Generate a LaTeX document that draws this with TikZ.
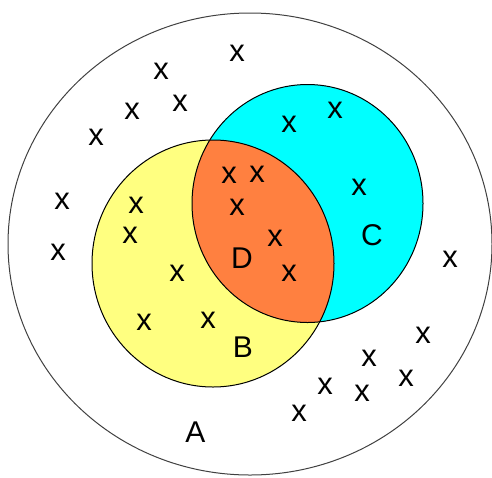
\documentclass[tikz,border=0pt]{standalone}
\usepackage{fontspec}
\setmainfont{Liberation Sans}
\definecolor{setB}{HTML}{FFFF80}
\definecolor{setC}{HTML}{00FFFF}
\definecolor{setD}{HTML}{FF8040}
\definecolor{ink}{HTML}{000000}

\begin{document}
\begin{tikzpicture}[x=1pt,y=-1pt,font=\fontsize{30}{30}\selectfont,
 lbl/.style={inner sep=0pt,text=ink},
 elem/.style={inner sep=0pt,text=ink,font=\fontsize{31}{31}\selectfont},
 rim/.style={draw=ink,line width=1pt}]
\path[use as bounding box] (0,0) rectangle (492,477);
% universe A
\draw[ink!75,line width=1pt] (250,244) ellipse [x radius=242,y radius=231];
% sets B and C, overlap D
\fill[setB] (213,263.5) ellipse [x radius=121,y radius=123.5];
\fill[setC] (307.5,203.5) ellipse [x radius=115.5,y radius=119];
\begin{scope}
 \clip (213,263.5) ellipse [x radius=121,y radius=123.5];
 \fill[setD] (307.5,203.5) ellipse [x radius=115.5,y radius=119];
\end{scope}
\draw[rim] (213,263.5) ellipse [x radius=121,y radius=123.5];
\draw[rim] (307.5,203.5) ellipse [x radius=115.5,y radius=119];
% set labels
\node[lbl] (labA) at (195.5,432) {A};
\node[lbl] (labB) at (243,347) {B};
\node[lbl] (labC) at (372,235) {C};
\node[lbl] (labD) at (242,258) {D};
% elements
\foreach \x/\y [count=\i] in {237/55,161/73,132/113,180/105,96/139,289/126,335/112,
 62/203,136/207,229/177,257/176,237/209,359/189,130/237,275/240,58/254,177/275,
 289/275,144/324,208/322,450/261,423/337,369/360,406/380,325/388,362/395,299/415}
 \node[elem] (x\i) at (\x,\y-2) {x};
\end{tikzpicture}
\end{document}
